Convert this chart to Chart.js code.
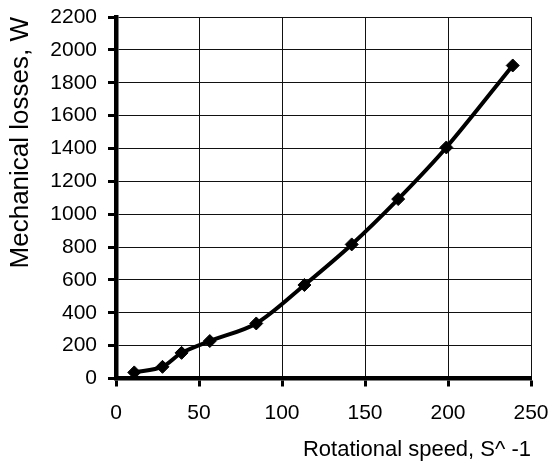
<!DOCTYPE html>
<html>
<head>
<meta charset="utf-8">
<script src="https://cdn.jsdelivr.net/npm/chart.js@4/dist/chart.umd.min.js"></script>
<style>
  html, body { margin: 0; padding: 0; background: #fff; }
  #wrap { width: 550px; height: 464px; }
</style>
</head>
<body>
<div id="wrap"><canvas id="c" width="550" height="464"></canvas></div>
<script>
const speeds = [11, 28, 39.5, 56.5, 84.5, 113.5, 142, 170, 199, 239];
const losses = [37, 71, 156, 228, 335, 569, 816, 1092, 1406, 1905];
const xTicks = [0, 50, 100, 150, 200, 250];
const yTicks = [0, 200, 400, 600, 800, 1000, 1200, 1400, 1600, 1800, 2000, 2200];
const xTitle = 'Rotational speed, S^ -1';
const yTitle = 'Mechanical losses, W';

const points = speeds.map((s, i) => ({ x: s, y: losses[i] }));
const FONT = '"Liberation Sans", Arial, sans-serif';

new Chart(document.getElementById('c'), {
  type: 'line',
  data: {
    datasets: [{
      data: points,
      borderColor: '#000',
      backgroundColor: '#000',
      borderWidth: 4,
      tension: 0.3,
      pointStyle: 'rectRot',
      pointRadius: 6.5,
      pointBorderWidth: 1,
      pointBackgroundColor: '#000',
      pointBorderColor: '#000',
      fill: false
    }]
  },
  options: {
    responsive: false,
    animation: false,
    events: [],
    layout: { padding: { top: 17, right: 19, left: 0, bottom: 0 } },
    plugins: { legend: { display: false }, tooltip: { enabled: false } },
    scales: {
      x: {
        type: 'linear',
        min: xTicks[0], max: xTicks[xTicks.length - 1],
        afterBuildTicks: (s) => { s.ticks = xTicks.map(v => ({ value: v })); },
        ticks: { color: '#000', font: { family: FONT, size: 21 }, padding: 14, maxRotation: 0, autoSkip: false,
                 callback: (v) => String(v) },
        grid: { color: '#111', lineWidth: 1, tickLength: 8, tickWidth: 3, tickColor: '#000' },
        border: { display: true, color: '#000', width: 4.5 },
        title: { display: true, text: xTitle, align: 'end', color: '#000', font: { family: FONT, size: 22 }, padding: { top: 4, bottom: 1 } },
        afterFit: (s) => { s.height = 85.5; s.paddingLeft = 0; s.paddingRight = 0; }
      },
      y: {
        type: 'linear',
        min: yTicks[0], max: yTicks[yTicks.length - 1],
        afterBuildTicks: (s) => { s.ticks = yTicks.map(v => ({ value: v })); },
        ticks: { color: '#000', font: { family: FONT, size: 21 }, padding: 11, autoSkip: false,
                 callback: (v) => String(v) },
        grid: { color: '#111', lineWidth: 1, tickLength: 8, tickWidth: 3, tickColor: '#000' },
        border: { display: true, color: '#000', width: 4.5 },
        title: { display: true, text: yTitle, align: 'end', color: '#000', font: { family: FONT, size: 26 }, padding: { top: 5, bottom: 0 } },
        afterFit: (s) => { s.width = 116; s.paddingTop = 0; s.paddingBottom = 0; }
      }
    }
  }
});
</script>
</body>
</html>
